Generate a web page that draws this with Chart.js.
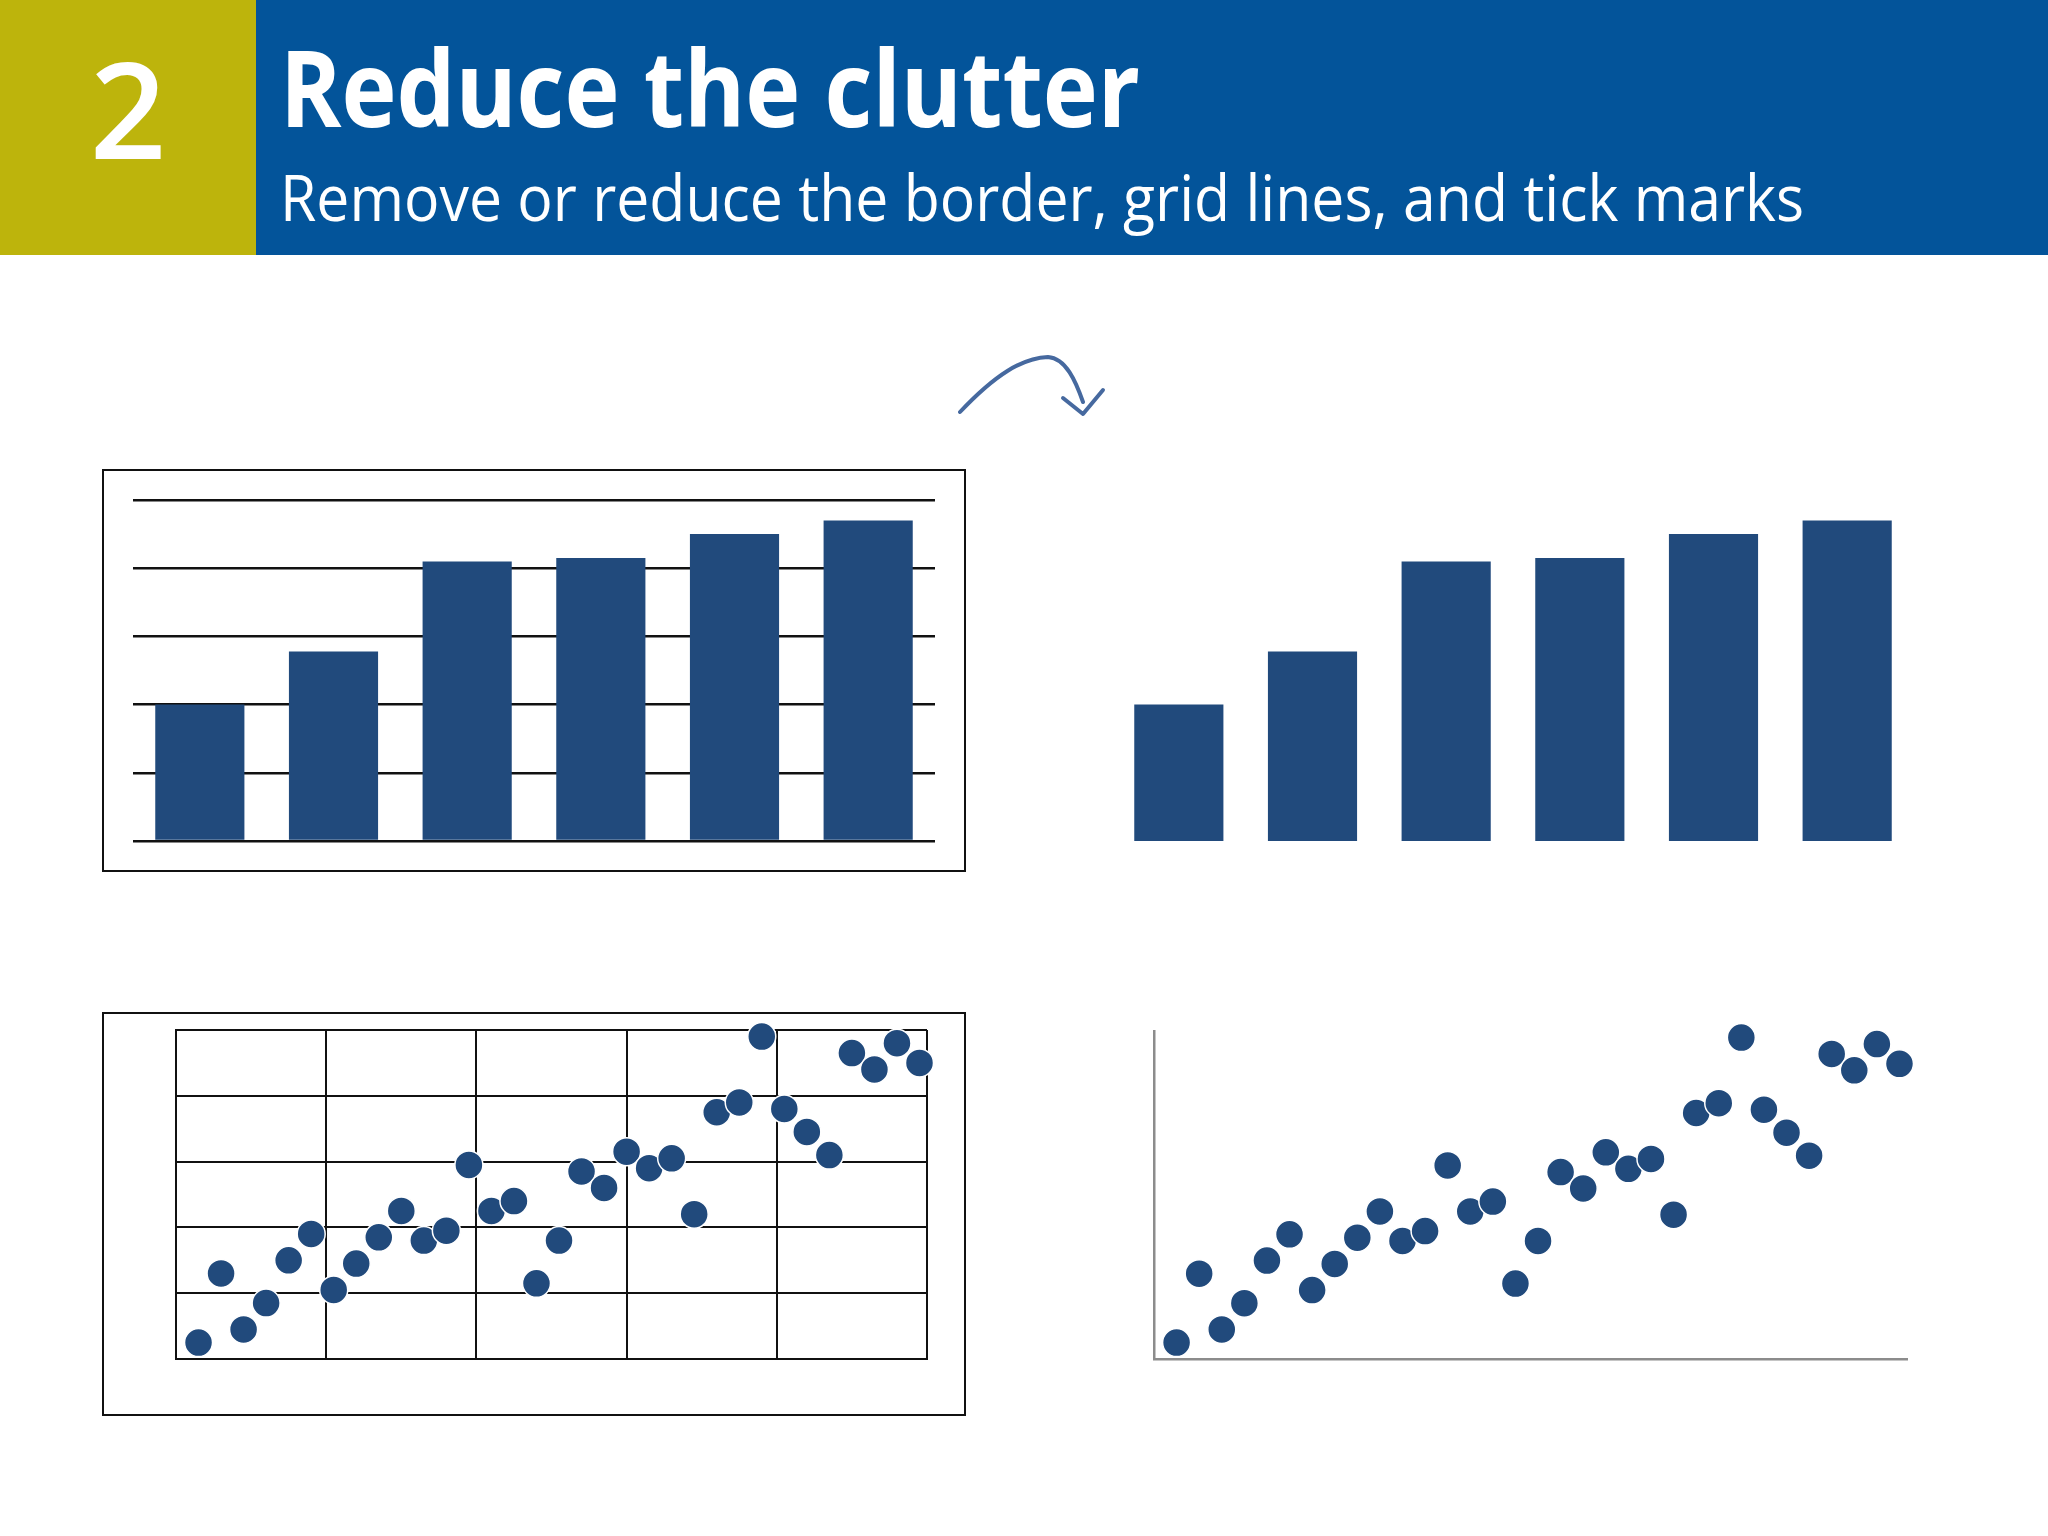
<!DOCTYPE html>
<html>
<head>
<meta charset="utf-8">
<script src="https://cdn.jsdelivr.net/npm/chart.js@4.4.1/dist/chart.umd.min.js"></script>
<style>
  html, body { margin: 0; padding: 0; background: #ffffff; }
  #page { position: relative; width: 2048px; height: 1536px; overflow: hidden; background: #ffffff; }
  .abs { position: absolute; }
  #band { left: 0; top: 0; width: 2048px; height: 255px; background: #03549A; }
  #olive { left: 0; top: 0; width: 256px; height: 255px; background: #BDB40C; }
  .txt { position: absolute; color: #ffffff; font-family: "Open Sans", "Noto Sans", sans-serif; line-height: 1; white-space: nowrap; transform-origin: 0 0; }
  #num { left: 0; width: 256px; top: 40px; font-size: 134px; font-weight: 600; text-align: center; }
  #title { left: 280px; top: 33px; font-size: 106px; font-weight: 700; }
  #subtitle { left: 280px; top: 165px; font-size: 64px; font-weight: 400; }
  .frame { position: absolute; border: 2px solid #111; box-sizing: border-box; }
</style>
</head>
<body>
<div id="page">
  <div id="band" class="abs"></div>
  <div id="olive" class="abs"></div>
  <div id="num" class="txt">2</div>
  <div id="title" class="txt">Reduce the clutter</div>
  <div id="subtitle" class="txt">Remove or reduce the border, grid lines, and tick marks</div>

  <svg class="abs" style="left:0;top:0" width="2048" height="1536">
    <path d="M960,412 C995,375 1022,358 1048,357 C1066,358 1076,382 1083,402" fill="none" stroke="#46699F" stroke-width="4" stroke-linecap="round"/>
    <path d="M1063,398 L1083,414 L1103,390" fill="none" stroke="#46699F" stroke-width="4" stroke-linecap="round" stroke-linejoin="round"/>
  </svg>

  <div class="frame" style="left:102px;top:469px;width:864px;height:403px;"></div>
  <canvas id="barLeft" class="abs" style="left:102px;top:469px;" width="864" height="403"></canvas>

  <canvas id="barRight" class="abs" style="left:1112px;top:469px;" width="802" height="403"></canvas>

  <div class="frame" style="left:102px;top:1012px;width:864px;height:404px;"></div>
  <canvas id="scatLeft" class="abs" style="left:102px;top:1012px;" width="864" height="404"></canvas>

  <canvas id="scatRight" class="abs" style="left:1120px;top:1000px;" width="830" height="400"></canvas>
</div>

<script>
// ---- data ----
const barCategories = ["A", "B", "C", "D", "E", "F"];
const barValues = [2.0, 2.78, 4.1, 4.15, 4.5, 4.7];
const barAxisMax = 5;

const scatterX = [3, 6, 9, 12, 15, 18, 21, 24, 27, 30, 33, 36, 39, 42, 45, 48, 51, 54, 57, 60, 63, 66, 69, 72, 75, 78, 81, 84, 87, 90, 93, 96, 99];
const scatterY = [5, 26, 9, 17, 30, 38, 21, 29, 37, 45, 36, 39, 59, 45, 48, 23, 36, 57, 52, 63, 58, 61, 44, 75, 78, 98, 76, 69, 62, 93, 88, 96, 90];
const scatterAxisMax = 100;

// ---- styling ----
const NAVY = "#214A7C";

// fit header text widths (Calibri-like narrower face in the reference)
function fitWidth(id, target) {
  const el = document.getElementById(id);
  const w = el.offsetWidth; // untransformed layout width
  if (w > 0) el.style.transform = "scaleX(" + (target / w) + ")";
}

function barChart(id, padding, withGrid) {
  new Chart(document.getElementById(id), {
    type: "bar",
    data: {
      labels: barCategories,
      datasets: [{ data: barValues, backgroundColor: NAVY, borderWidth: 0, barPercentage: 0.667, categoryPercentage: 1.0 }]
    },
    options: {
      responsive: false, animation: false, devicePixelRatio: 1,
      layout: { padding: padding },
      plugins: { legend: { display: false }, tooltip: { enabled: false } },
      scales: {
        x: { display: false },
        y: {
          display: withGrid, min: 0, max: barAxisMax,
          ticks: { display: false, stepSize: 1 },
          grid: { display: withGrid, color: "#111111", lineWidth: 2.5, drawTicks: false },
          border: { display: false }
        }
      }
    }
  });
}

function scatterChart(id, padding, withGrid) {
  const pts = scatterX.map((x, i) => ({ x: x, y: scatterY[i] }));
  const axis = {
    min: 0, max: scatterAxisMax,
    ticks: { display: false, stepSize: 20 },
    grid: withGrid ? { display: true, color: "#111111", lineWidth: 2, drawTicks: false } : { display: false, drawTicks: false },
    border: withGrid ? { display: true, color: "#111111", width: 2 } : { display: true, color: "#8C8C8C", width: 2.5 }
  };
  new Chart(document.getElementById(id), {
    type: "scatter",
    data: {
      datasets: [{
        data: pts, clip: false,
        pointRadius: 14, pointHoverRadius: 14,
        pointBackgroundColor: NAVY, pointBorderColor: "#ffffff", pointBorderWidth: 1.5
      }]
    },
    options: {
      responsive: false, animation: false, devicePixelRatio: 1,
      layout: { padding: padding },
      plugins: { legend: { display: false }, tooltip: { enabled: false } },
      scales: { x: Object.assign({ type: "linear" }, axis), y: Object.assign({}, axis) }
    }
  });
}

barChart("barLeft", { left: 31, right: 31, top: 31, bottom: 31 }, true);
barChart("barRight", { left: 0, right: 0, top: 31, bottom: 31 }, false);
scatterChart("scatLeft", { left: 74, right: 39, top: 18, bottom: 57 }, true);
scatterChart("scatRight", { left: 34, right: 43, top: 31, bottom: 41 }, false);

function fitAll() {
  fitWidth("title", 860);
  fitWidth("subtitle", 1524);
}
fitAll();
if (document.fonts && document.fonts.ready) { document.fonts.ready.then(fitAll); }
</script>
</body>
</html>
